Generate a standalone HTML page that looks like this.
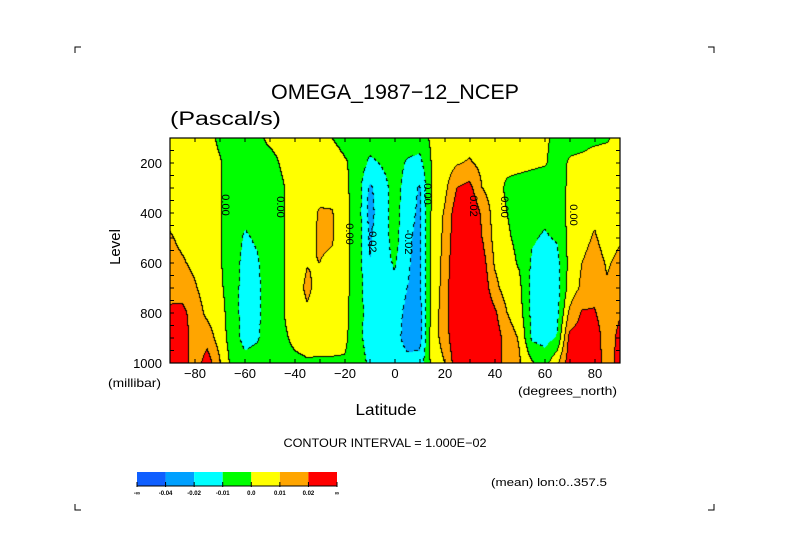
<!DOCTYPE html>
<html><head><meta charset="utf-8">
<style>
html,body{margin:0;padding:0;background:#fff;width:789px;height:558px;overflow:hidden}
#wrap{position:relative;width:789px;height:558px}
#field{position:absolute;left:170px;top:138px}
svg{position:absolute;left:0;top:0}
text{font-family:"Liberation Sans",sans-serif;fill:#000}
</style></head>
<body>
<div id="wrap">
<canvas id="field" width="450" height="225"></canvas>
<svg id="ov" width="789" height="558"></svg>
</div>
<script>
// Data: omega in units of 0.01 Pa/s, latitudes -90..90 step 5, levels 100..1000 step 100
const latitudes = [-90,-85,-80,-75,-70,-65,-60,-55,-50,-45,-40,-35,-30,-25,-20,-15,-10,-5,0,5,10,15,20,25,30,35,40,45,50,55,60,65,70,75,80,85,90];
const levels = [100,200,300,400,500,600,700,800,900,1000];
const omegaCenti = [
[0.5,0.5,0.5,0.7,1.1,1.3,1.6,2.2,2.6,2.6],
[0.5,0.5,0.5,0.6,0.8,1.1,1.5,2.3,2.8,2.8],
[0.5,0.5,0.5,0.5,0.6,0.8,1.1,1.5,1.3,1.2],
[0.4,0.4,0.4,0.4,0.4,0.5,0.6,0.8,1.5,2.6],
[-0.2,0.1,0.1,0.1,0.1,0.1,0.2,0.4,0.6,1.1],
[-0.5,-0.5,-0.4,-0.4,-0.5,-0.5,-0.5,-0.5,-0.5,-0.3],
[-0.5,-0.6,-0.7,-0.8,-1.1,-1.3,-1.4,-1.4,-1.3,-0.7],
[-0.2,-0.5,-0.6,-0.7,-0.9,-1.1,-1.2,-1.2,-1.1,-0.6],
[0.2,-0.3,-0.4,-0.4,-0.4,-0.5,-0.5,-0.5,-0.5,-0.4],
[0.3,0.1,-0.1,-0.1,-0.1,-0.1,-0.1,-0.1,-0.2,-0.3],
[0.4,0.4,0.4,0.4,0.4,0.4,0.5,0.5,0.2,-0.2],
[0.5,0.5,0.5,0.5,0.6,0.95,1.2,0.85,0.4,-0.1],
[0.4,0.5,0.6,1.1,1.15,1.0,0.65,0.6,0.3,-0.1],
[0.0,0.4,0.6,1.06,1.1,0.8,0.5,0.4,0.3,-0.1],
[-0.3,0.1,0.2,0.3,0.3,0.3,0.3,0.3,0.2,-0.1],
[-0.3,-0.3,-0.4,-0.4,-0.4,-0.4,-0.5,-0.6,-0.6,-0.4],
[-0.5,-1.2,-2.2,-2.3,-2.1,-2.0,-1.6,-1.4,-1.5,-1.2],
[-0.4,-0.9,-1.4,-1.5,-1.5,-1.4,-1.3,-1.5,-1.6,-1.3],
[-0.3,-0.6,-0.6,-0.6,-0.6,-0.9,-1.2,-1.5,-1.6,-1.3],
[-0.5,-1.1,-1.4,-1.6,-1.8,-1.9,-2.0,-2.3,-2.4,-1.7],
[-0.5,-1.3,-2.1,-2.2,-2.3,-2.3,-2.2,-2.4,-2.4,-1.6],
[0.2,0.1,0.1,0.2,0.3,0.3,0.3,0.4,0.5,0.3],
[0.4,0.5,0.7,1.1,1.2,1.3,1.4,1.5,1.4,1.0],
[0.5,0.9,2.0,2.6,2.8,3.0,3.2,3.2,3.0,2.6],
[0.6,1.1,2.3,3.0,3.3,3.6,3.8,3.6,3.3,2.8],
[0.3,0.7,1.0,1.8,2.0,2.5,2.8,3.0,3.0,2.8],
[0.1,0.3,0.5,0.6,0.7,0.9,1.3,2.2,2.6,2.6],
[0.3,0.3,-0.2,0.0,0.1,0.3,0.5,1.0,1.5,1.6],
[0.3,0.3,-0.4,-0.3,-0.2,-0.1,0.2,0.4,0.9,1.1],
[0.3,0.2,-0.5,-0.7,-0.9,-1.15,-1.3,-1.3,-1.2,0.1],
[0.2,0.1,-0.6,-0.8,-1.1,-1.4,-1.6,-1.6,-1.4,-0.4],
[-0.3,-0.4,-0.5,-0.6,-0.9,-1.3,-1.4,-1.3,-0.9,0.8],
[-0.3,0.1,0.2,0.3,0.3,0.3,0.4,1.2,2.3,2.6],
[-0.3,0.2,0.3,0.5,0.7,1.0,1.2,2.1,2.5,2.6],
[-0.2,0.4,0.5,0.8,1.1,1.4,1.6,2.1,2.6,2.7],
[-0.1,0.4,0.3,0.4,0.6,0.9,1.1,1.3,1.4,1.4],
[0.3,0.5,0.5,0.6,0.9,1.2,1.5,1.9,2.3,2.4]
];
const xTickLabels = [-80,-60,-40,-20,0,20,40,60,80];
const yTickLabels = [200,400,600,800,1000];
const legendLabels = ["-\u221e","-0.04","-0.02","-0.01","0.0","0.01","0.02","\u221e"];
const thresholds = [-0.04,-0.02,-0.01,0,0.01,0.02];
const colors = ["#0f5fff","#00a0ff","#00ffff","#00ff00","#ffff00","#ffa500","#ff0000"];

const PX=170, PY=138, PW=450, PH=225;
const xScale = lat => PX + (lat+90)/180*PW;
const yScale = lev => PY + (lev-100)/900*PH;
const latAt = px => -90 + px/PW*180;
const levAt = py => 100 + py/PH*900;

function valueAt(lat, lev){
  let fi=(lat-latitudes[0])/(latitudes[1]-latitudes[0]);
  let fj=(lev-levels[0])/(levels[1]-levels[0]);
  fi=Math.max(0,Math.min(latitudes.length-1.0001,fi));
  fj=Math.max(0,Math.min(levels.length-1.0001,fj));
  const i=Math.floor(fi), j=Math.floor(fj), a=fi-i, b=fj-j;
  const v=(1-a)*(1-b)*omegaCenti[i][j]+a*(1-b)*omegaCenti[i+1][j]+(1-a)*b*omegaCenti[i][j+1]+a*b*omegaCenti[i+1][j+1];
  return v/100;
}
function bin(v){let k=0;while(k<thresholds.length&&v>=thresholds[k])k++;return k;}
function hex(c){return [parseInt(c.substr(1,2),16),parseInt(c.substr(3,2),16),parseInt(c.substr(5,2),16)];}

const cv=document.getElementById('field'), ctx=cv.getContext('2d');
const img=ctx.createImageData(PW,PH);
const bins=new Array(PW*PH);
for(let y=0;y<PH;y++)for(let x=0;x<PW;x++)bins[y*PW+x]=bin(valueAt(latAt(x+0.5),levAt(y+0.5)));
const rgb=colors.map(hex);
for(let y=0;y<PH;y++)for(let x=0;x<PW;x++){
  const k=bins[y*PW+x];let c=rgb[k];
  const r=x<PW-1?bins[y*PW+x+1]:k, d=y<PH-1?bins[(y+1)*PW+x]:k;
  if(r!==k||d!==k){
    const m=Math.min(k,r,d);
    const dashed=m<3;
    if(!dashed || (((x+y)>>2)%2===0)) c=[0,0,0];
  }
  const o=(y*PW+x)*4;img.data[o]=c[0];img.data[o+1]=c[1];img.data[o+2]=c[2];img.data[o+3]=255;
}
ctx.putImageData(img,0,0);

const svg=document.getElementById('ov'), NS='http://www.w3.org/2000/svg';
function el(tag,attrs,txt){const e=document.createElementNS(NS,tag);for(const k in attrs)e.setAttribute(k,attrs[k]);if(txt!==undefined)e.textContent=txt;svg.appendChild(e);return e;}

let e;
e=el('rect',{x:PX,y:PY,width:PW,height:PH,fill:'none',stroke:'#000','stroke-width':1.2});


for(let lat=-80;lat<=80;lat+=10){const x=xScale(lat);
  e=el('path',{d:`M${x},${PY}v4M${x},${PY+PH}v-4`,stroke:'#000','stroke-width':1});
  
  }
for(let lev=150;lev<1000;lev+=50){const y=yScale(lev);
  e=el('path',{d:`M${PX},${y}h4M${PX+PW},${y}h-4`,stroke:'#000','stroke-width':1});
  
  }
xTickLabels.forEach(v=>{
  e=el('text',{x:xScale(v),y:378,'font-size':13,'text-anchor':'middle'},v===0?'0':String(v).replace('-','\u2212'));
  
  });
yTickLabels.forEach(v=>{
  e=el('text',{x:162,y:yScale(v)+5,'font-size':13,'text-anchor':'end'},String(v));
  
  });

e=el('text',{x:395,y:99,'font-size':21,'text-anchor':'middle',textLength:248,lengthAdjust:'spacingAndGlyphs'},'OMEGA_1987\u221212_NCEP');


e=el('text',{x:170,y:125,'font-size':19,textLength:111,lengthAdjust:'spacingAndGlyphs'},'(Pascal/s)');


e=el('text',{x:0,y:0,'font-size':15,'text-anchor':'middle',transform:'translate(120,247) rotate(-90)'},'Level');


e=el('text',{x:108,y:387,'font-size':12,textLength:53,lengthAdjust:'spacingAndGlyphs'},'(millibar)');


e=el('text',{x:518,y:395,'font-size':12,textLength:99,lengthAdjust:'spacingAndGlyphs'},'(degrees_north)');


e=el('text',{x:386,y:415,'font-size':16,'text-anchor':'middle',textLength:61,lengthAdjust:'spacingAndGlyphs'},'Latitude');


e=el('text',{x:385,y:447,'font-size':12,'text-anchor':'middle',textLength:203,lengthAdjust:'spacingAndGlyphs'},'CONTOUR INTERVAL = 1.000E\u221202');


e=el('text',{x:491,y:486,'font-size':11,textLength:116,lengthAdjust:'spacingAndGlyphs'},'(mean) lon:0..357.5');



// colorbar
const cbX=137, cbY=472, cbW=200/7, cbH=14;
colors.forEach((c,i)=>{
  e=el('rect',{x:cbX+i*cbW,y:cbY,width:cbW,height:cbH,fill:c});
  
  });
e=el('path',{d:`M${cbX},${cbY+cbH}h200`+legendLabels.map((l,i)=>`M${cbX+i*cbW},${cbY+cbH-4}v5`).join(''),stroke:'#000','stroke-width':1});


legendLabels.forEach((l,i)=>{
  e=el('text',{x:cbX+i*cbW,y:cbY+cbH+9,'font-size':6,'text-anchor':'middle','font-weight':'bold'},l);
  
  });

// contour labels
[[222,205,'0.00'],[277,207,'0.00'],[346,234,'0.00'],[424,194,'0.00'],[501,207,'0.00'],[570,215,'0.00'],[470,206,'0.02'],[369,240,'-0.02'],[405,242,'-0.02']].forEach(p=>{
  e=el('text',{x:0,y:0,'font-size':11,'text-anchor':'middle',transform:`translate(${p[0]},${p[1]}) rotate(90)`,fill:'#000'},p[2]);
  
  });

// corner marks
[[75,47,1,1],[714,47,-1,1],[75,510,1,-1],[714,510,-1,-1]].forEach(c=>{
  e=el('path',{d:`M${c[0]+6*c[2]},${c[1]}H${c[0]}V${c[1]+6*c[3]}`,stroke:'#000',fill:'none','stroke-width':1});
  
  });
</script>
</body></html>
